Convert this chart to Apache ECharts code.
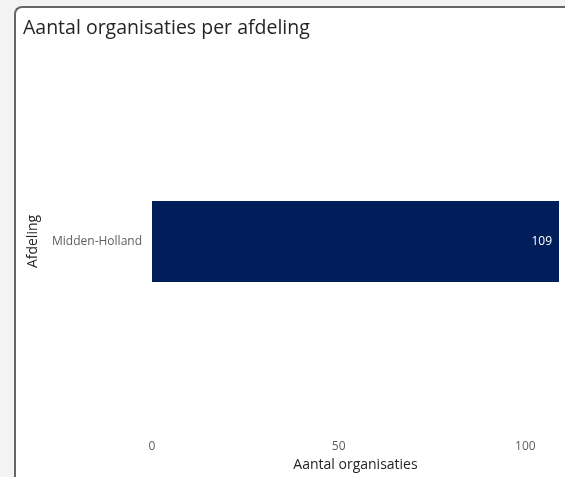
<!DOCTYPE html>
<html>
<head>
<meta charset="utf-8">
<script src="https://cdn.jsdelivr.net/npm/echarts@6/dist/echarts.min.js"></script>
<style>
  html, body { margin: 0; padding: 0; width: 565px; height: 477px; overflow: hidden; background: #f3f3f3; }
  #panel { position: absolute; left: 14px; top: 6px; width: 580px; height: 520px; background: #fff;
           border-left: 2px solid #666; border-top: 2px solid #666; border-top-left-radius: 8px; }
  #chart { position: absolute; left: 0; top: 0; width: 565px; height: 477px; }
</style>
</head>
<body>
<div id="panel"></div>
<div id="chart"></div>
<script>
const categories = ['Midden-Holland'];
const values = [109];
const xTicks = [0, 50, 100];

const chart = echarts.init(document.getElementById('chart'), null, { renderer: 'canvas' });
const font = '"Open Sans", "Noto Sans", sans-serif';
chart.setOption({
  animation: false,
  title: {
    text: 'Aantal organisaties per afdeling',
    left: 18, top: 13,
    textStyle: { fontFamily: font, fontSize: 19.5, fontWeight: 'normal', color: '#252423' }
  },
  grid: { left: 152, right: 6, top: 55, bottom: 49 },
  xAxis: {
    type: 'value', min: 0, max: 109, interval: 50,
    name: 'Aantal organisaties', nameLocation: 'middle', nameGap: 28,
    nameTextStyle: { fontFamily: font, fontSize: 14, color: '#252423' },
    axisLine: { show: false }, axisTick: { show: false }, splitLine: { show: false },
    axisLabel: {
      fontFamily: font, fontSize: 12, color: '#605e5c', margin: 13,
      formatter: v => (xTicks.indexOf(v) >= 0 ? String(v) : '')
    }
  },
  yAxis: {
    type: 'category', data: categories,
    name: 'Afdeling', nameLocation: 'middle', nameGap: 112, nameRotate: 90,
    nameTextStyle: { fontFamily: font, fontSize: 14, color: '#252423', fontWeight: 500 },
    axisLine: { show: false }, axisTick: { show: false },
    axisLabel: { fontFamily: font, fontSize: 12, color: '#605e5c', margin: 10 }
  },
  series: [{
    type: 'bar', data: values, barWidth: 81,
    itemStyle: { color: '#001f5a' },
    label: {
      show: true, position: 'insideRight', distance: 7,
      fontFamily: font, fontSize: 12, color: '#ffffff'
    }
  }]
});
</script>
</body>
</html>
